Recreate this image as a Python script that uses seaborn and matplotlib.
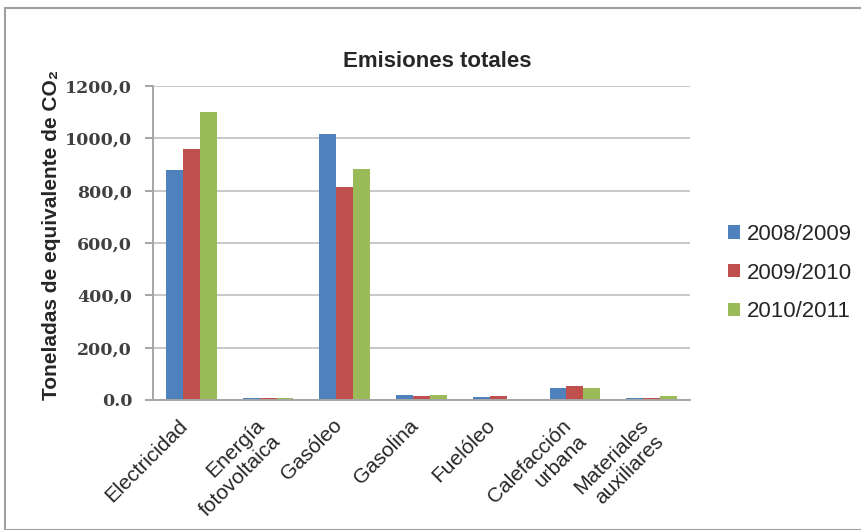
import matplotlib
matplotlib.use("Agg")
import matplotlib.pyplot as plt
import matplotlib.transforms as mtransforms
import seaborn as sns
import pandas as pd
import numpy as np
from matplotlib.patches import Rectangle
from matplotlib.ticker import FixedLocator

categories = ["Electricidad", "Energía\nfotovoltaica", "Gasóleo", "Gasolina",
              "Fuelóleo", "Calefacción\nurbana", "Materiales\nauxiliares"]
series = ["2008/2009", "2009/2010", "2010/2011"]
v_2008 = [878, 8, 1015, 20, 11, 47, 7]
v_2009 = [958, 8, 815, 15, 17, 52, 7]
v_2010 = [1100, 7, 882, 19, 0, 46, 15]
yticks = [0, 200, 400, 600, 800, 1000, 1200]
ytick_labels = ["0.0", "200,0", "400,0", "600,0", "800,0", "1000,0", "1200,0"]
colors = ["#4F81BD", "#C0504D", "#9BBB59"]

rows = []
for s, vals in zip(series, [v_2008, v_2009, v_2010]):
    for c, v in zip(categories, vals):
        rows.append({"cat": c, "serie": s, "val": v})
df = pd.DataFrame(rows)

sns.set_style("white")
plt.rcParams["font.family"] = ["Liberation Sans", "DejaVu Sans"]

fig = plt.figure(figsize=(8.62, 5.30), dpi=100)
ax = fig.add_axes([153/862, 1-400/530, (690-153)/862, (400-86)/530])

sns.barplot(data=df, x="cat", y="val", hue="serie", order=categories,
            hue_order=series, palette=colors, width=0.66, gap=0,
            saturation=1, ax=ax, legend=True, linewidth=0, edgecolor="none")

ax.set_ylim(0, 1200)
ax.set_xlim(-0.5, 6.5)
ax.set_yticks(yticks)
ax.set_yticklabels(ytick_labels, fontfamily=["DejaVu Serif"],
                   fontweight="bold", fontsize=12.5, color="#404040")
ax.yaxis.grid(True, color="#C4C4C4", lw=1.3)
ax.set_axisbelow(True)
for sp in ["top", "right"]:
    ax.spines[sp].set_visible(False)
for sp in ["left", "bottom"]:
    ax.spines[sp].set_color("#A6A6A6")
    ax.spines[sp].set_linewidth(1.4)

ax.set_xticks(range(len(categories)))
ax.set_xticklabels(categories, rotation=45, ha="right", va="top", rotation_mode="anchor",
                   fontsize=15, multialignment="right")
ax.tick_params(axis="x", which="major", length=0, pad=11.5)
offset = mtransforms.ScaledTranslation(-13/100, 0, fig.dpi_scale_trans)
for lab in ax.get_xticklabels():
    lab.set_transform(lab.get_transform() + offset)
ax.xaxis.set_minor_locator(FixedLocator(np.arange(-0.5, 7, 1)))
ax.tick_params(axis="x", which="minor", length=6, color="#A6A6A6", width=1.4, direction="out")
ax.tick_params(axis="y", length=6, color="#A6A6A6", width=1.4, direction="out", left=True, pad=9)

ax.set_xlabel("")
ax.set_ylabel("Toneladas de equivalente de CO₂", fontsize=15, fontweight="bold")
ax.yaxis.set_label_coords(-0.171, 0.525)
ax.set_title("Emisiones totales", fontsize=16, fontweight="bold", pad=14, x=0.529)

leg = ax.legend(loc="center left", bbox_to_anchor=(1.0335, 0.404), frameon=False,
                fontsize=16, handlelength=0.54, handleheight=0.54, handletextpad=0.3,
                labelspacing=0.8)

fig.patches.append(Rectangle((5/862, 0.0), 1.2, 1 - 8/530, transform=fig.transFigure,
                             fill=False, edgecolor="#A0A0A0", lw=1.5))
fig.savefig("out.png", dpi=100)
